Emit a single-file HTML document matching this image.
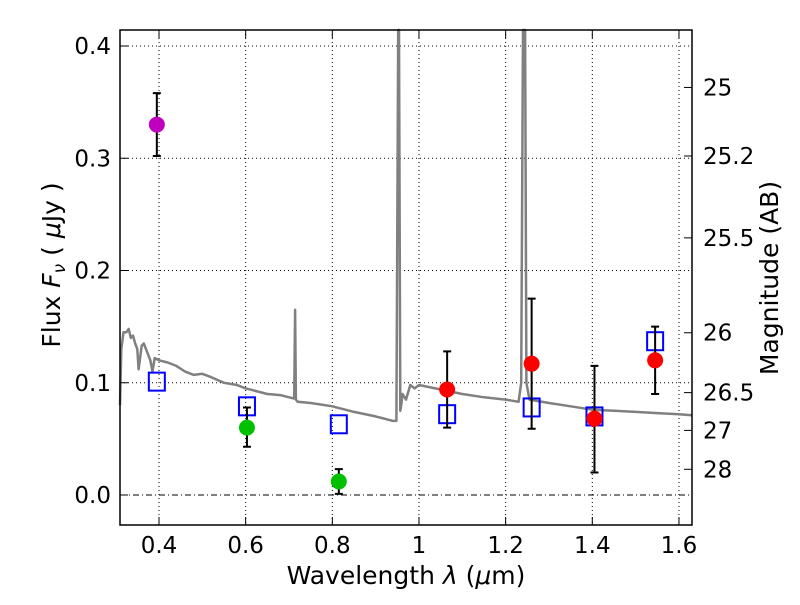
<!DOCTYPE html>
<html><head><meta charset="utf-8"><style>
body{margin:0;background:#fff;}
svg text{font-family:"DejaVu Sans","Liberation Sans",sans-serif;}
.tk{font-size:23px;}
.ti{font-size:25px;}
</style></head><body>
<svg id="chart" width="800" height="600" xmlns="http://www.w3.org/2000/svg">
<rect width="800" height="600" fill="#fff"/>
<g id="grid"></g>
<g id="spec"></g>
<g id="marks"></g>
<g id="axes"></g>
<text class="ti" x="406" y="584" text-anchor="middle">Wavelength  <tspan font-style="italic">λ</tspan> (<tspan font-style="italic">μ</tspan>m)</text>
<text class="ti" transform="translate(60,265) rotate(-90)" text-anchor="middle">Flux  <tspan font-style="italic">F<tspan font-size="17" dy="5">ν</tspan></tspan><tspan dy="-5">  ( </tspan><tspan font-style="italic">μ</tspan>Jy )</text>
<text class="ti" transform="translate(778,278) rotate(-90)" text-anchor="middle">Magnitude (AB)</text>
</svg>
<script>
const xTicks=[0.4,0.6,0.8,1.0,1.2,1.4,1.6];
const xTickLabels=["0.4","0.6","0.8","1","1.2","1.4","1.6"];
const yTicks=[0.0,0.1,0.2,0.3,0.4];
const yTickLabels=["0.0","0.1","0.2","0.3","0.4"];
const magTicks=[25,25.2,25.5,26,26.5,27,28];
const magTickLabels=["25","25.2","25.5","26","26.5","27","28"];
const specWave=[0.31,0.313,0.318,0.325,0.33,0.335,0.34,0.345,0.35,0.353,0.36,0.365,0.37,0.38,0.385,0.39,0.4,0.42,0.44,0.46,0.48,0.5,0.52,0.55,0.58,0.6,0.62,0.65,0.68,0.7,0.712,0.714,0.716,0.718,0.72,0.75,0.8,0.85,0.9,0.94,0.948,0.952,0.954,0.957,0.959,0.962,0.97,0.98,0.99,1.0,1.05,1.1,1.15,1.2,1.23,1.236,1.24,1.245,1.248,1.255,1.3,1.35,1.4,1.45,1.5,1.55,1.6,1.63];
const specFlux=[0.08,0.13,0.145,0.145,0.148,0.14,0.142,0.135,0.13,0.112,0.133,0.135,0.13,0.12,0.11,0.122,0.12,0.118,0.115,0.11,0.107,0.108,0.105,0.1,0.098,0.095,0.093,0.09,0.089,0.087,0.086,0.165,0.085,0.084,0.083,0.082,0.079,0.074,0.07,0.066,0.066,0.42,0.42,0.075,0.08,0.09,0.085,0.098,0.095,0.098,0.094,0.09,0.087,0.085,0.083,0.1,0.42,0.42,0.1,0.085,0.082,0.079,0.076,0.075,0.074,0.073,0.072,0.071];
const photWave=[0.395,0.603,0.815,1.065,1.26,1.405,1.545];
const photFlux=[0.33,0.06,0.012,0.094,0.117,0.068,0.12];
const photErrLo=[0.302,0.043,0.001,0.060,0.059,0.020,0.090];
const photErrHi=[0.358,0.078,0.023,0.128,0.175,0.115,0.150];
const photColor=["#bf00bf","#00c000","#00c000","#ff0000","#ff0000","#ff0000","#ff0000"];
const modelWave=[0.395,0.603,0.815,1.065,1.26,1.405,1.545];
const modelFlux=[0.101,0.079,0.063,0.072,0.078,0.070,0.137];

const L=120,R=692,T=30,B=525;
const xs=v=>159+(v-0.4)*433.3;
const ys=v=>495-v*1122.5;
const NS="http://www.w3.org/2000/svg";
function mk(tag,attrs,parent){const e=document.createElementNS(NS,tag);for(const k in attrs)e.setAttribute(k,attrs[k]);parent.appendChild(e);return e;}
const grid=document.getElementById('grid'),spec=document.getElementById('spec'),marks=document.getElementById('marks'),axes=document.getElementById('axes');
xTicks.forEach((t,i)=>{const x=xs(t);
 const g=mk('line',{x1:x,x2:x,y1:T,y2:B,stroke:'#000','stroke-dasharray':'1,3','stroke-width':1},grid);
 
 mk('line',{x1:x,x2:x,y1:B,y2:B-8,stroke:'#000'},axes);mk('line',{x1:x,x2:x,y1:T,y2:T+8,stroke:'#000'},axes);
 const tx=mk('text',{x:x,y:B+28,'class':'tk','text-anchor':'middle'},axes);tx.textContent=xTickLabels[i];
 });
yTicks.forEach((t,i)=>{const y=ys(t);
 const g=mk('line',{x1:L,x2:R,y1:y,y2:y,stroke:'#000','stroke-dasharray':t===0?'6,3,1,3':'1,3','stroke-width':1},grid);
 
 mk('line',{x1:L,x2:L+8,y1:y,y2:y,stroke:'#000'},axes);
 const tx=mk('text',{x:L-9,y:y+8,'class':'tk','text-anchor':'end'},axes);tx.textContent=yTickLabels[i];
 });
magTicks.forEach((m,i)=>{const y=ys(Math.pow(10,(23.9-m)/2.5));
 mk('line',{x1:R,x2:R-8,y1:y,y2:y,stroke:'#000'},axes);
 const tx=mk('text',{x:R+11,y:y+8,'class':'tk'},axes);tx.textContent=magTickLabels[i];
 });
const pts=specWave.map((w,i)=>xs(w).toFixed(1)+','+Math.max(T,ys(specFlux[i])).toFixed(1)).join(' ');
const pl=mk('polyline',{points:pts,fill:'none',stroke:'#808080','stroke-width':2.5,'stroke-linejoin':'round'},spec);

modelWave.forEach((w,i)=>{const x=xs(w),y=ys(modelFlux[i]);
 const r=mk('rect',{x:x-8,y:y-9,width:16,height:18,fill:'none',stroke:'#0000ff','stroke-width':2},marks);
 });
photWave.forEach((w,i)=>{const x=xs(w);
 const e=mk('path',{d:`M${x},${ys(photErrLo[i])}V${ys(photErrHi[i])}M${x-4},${ys(photErrLo[i])}H${x+4}M${x-4},${ys(photErrHi[i])}H${x+4}`,stroke:'#000','stroke-width':2,fill:'none'},marks);
 
 const c=mk('circle',{cx:x,cy:ys(photFlux[i]),r:8,fill:photColor[i]},marks);
 });
const fr=mk('rect',{x:L,y:T,width:R-L,height:B-T,fill:'none',stroke:'#000','stroke-width':1.5},axes);

</script>
</body></html>
